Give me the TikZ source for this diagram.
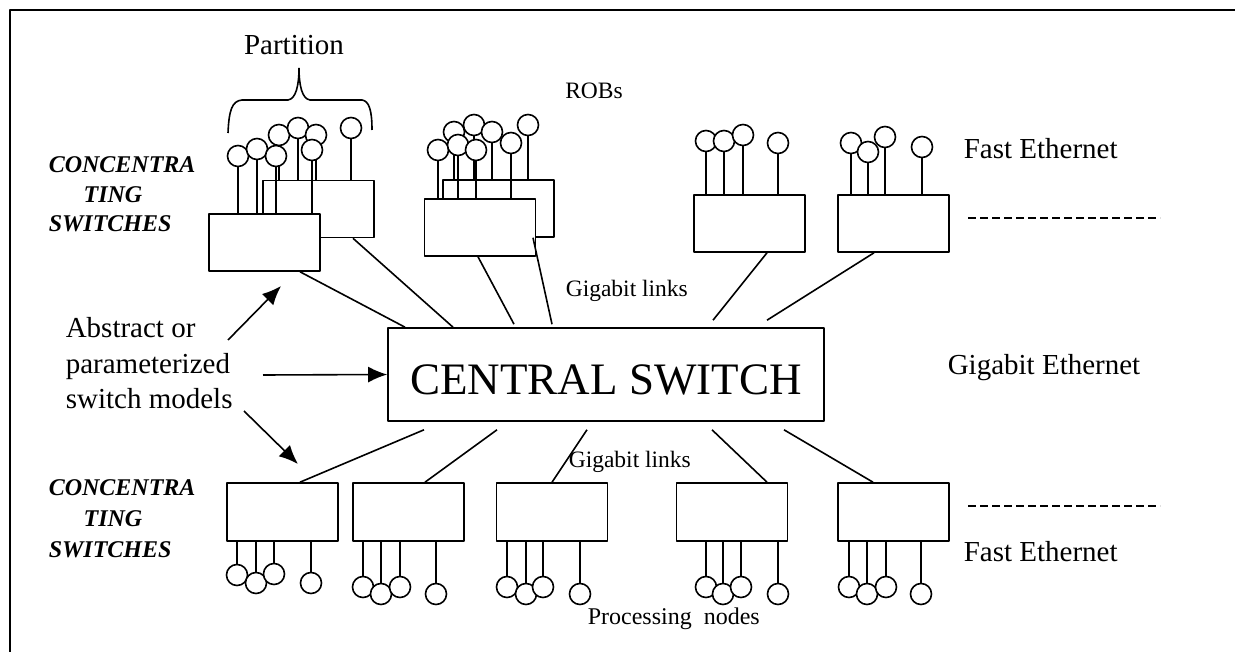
\documentclass[tikz,border=0pt]{standalone}
\usepackage{fontspec}
\setmainfont{Liberation Serif}
\usepackage{tikz}
\usetikzlibrary{arrows.meta,positioning}

\tikzset{
  swbox/.style={draw,fill=white,inner sep=0pt,minimum width=111pt,minimum height=57pt},
  rob/.style={draw,fill=white,circle,inner sep=0pt,minimum size=21pt},
  lbl/.style={inner sep=0pt,anchor=base west},
  side/.style={inner sep=0pt,align=left,anchor=base west,font=\fontsize{24}{29.5}\selectfont\bfseries\itshape},
}

\begin{document}
\begin{tikzpicture}[x=1pt,y=-1pt,>={Latex[length=19pt,width=16pt]},line join=bevel]
\pgfsetlinewidth{1.6pt}
\useasboundingbox (0,0) rectangle (1235,652);
% frame
\draw[line width=2.6pt] (10,652) -- (10,10) -- (1235,10);

% central switch
\node[draw,inner sep=0pt,minimum width=436pt,minimum height=93pt,text height=41pt,text depth=0pt,font=\fontsize{45}{54}\selectfont] (cs) at (606,374.5) {CENTRAL SWITCH};

% upper concentrating switches with ROBs (back box first)
\foreach \sw/\cx/\cy/\pts in {
  ta2/318.5/209/{279/135,298/128,316/135,351/128},
  ta1/264.5/242.5/{238/156,257/149,276/156,312/150},
  tb2/498.5/208.5/{454/132,474/125,492/132,528/125},
  tb1/480/227.5/{438/150,458/145,476/150,511/143},
  tc/749.5/223.5/{706/141,724/141,743/135,778/143},
  td/893.5/223.5/{851/143,868/152,885/137,922/147}}{
  \node[swbox] (\sw) at (\cx,\cy) {};
  \foreach \x/\y [count=\i] in \pts {
    \node[rob] (\sw r\i) at (\x,\y) {};
    \draw (\sw r\i.south) -- (\sw r\i.south |- \sw.north);
  }
}

% lower concentrating switches with processing nodes
\foreach \sw/\cx/\pts in {
  ba/282.5/{237/575,256/583,274/574,311/583},
  bb/408.5/{363/587,381/594,400/587,436/594},
  bc/552/{507/587,526/594,543/587,580/594},
  bd/732/{706/587,723/594,741/587,778/594},
  be/893.5/{849/587,867/594,886/587,921/594}}{
  \node[swbox,minimum height=58pt] (\sw) at (\cx,512) {};
  \foreach \x/\y [count=\i] in \pts {
    \node[rob] (\sw r\i) at (\x,\y) {};
    \draw (\sw r\i.north) -- (\sw r\i.north |- \sw.south);
  }
}

% gigabit links
\draw ([xshift=35.5pt]ta1.south) -- ([xshift=-201pt]cs.north);
\draw ([xshift=34.5pt]ta2.south) -- ([xshift=-153pt]cs.north);
\draw ([xshift=-2pt]tb1.south) -- ([xshift=-92pt,yshift=3pt]cs.north);
\draw ([xshift=34.5pt]tb2.south) -- ([xshift=-54pt,yshift=3pt]cs.north);
\draw ([xshift=17.5pt]tc.south) -- ([xshift=107pt,yshift=7pt]cs.north);
\draw ([xshift=-19.5pt]td.south) -- ([xshift=161pt,yshift=7pt]cs.north);
\draw ([xshift=-182pt,yshift=-8pt]cs.south) -- ([xshift=17.5pt]ba.north);
\draw ([xshift=-109pt,yshift=-8pt]cs.south) -- ([xshift=16.5pt]bb.north);
\draw ([xshift=-19pt,yshift=-8pt]cs.south) -- (bc.north);
\draw ([xshift=106pt,yshift=-8pt]cs.south) -- ([xshift=35pt]bd.north);
\draw ([xshift=178pt,yshift=-8pt]cs.south) -- ([xshift=-20.5pt]be.north);

% partition brace
\draw (228,133) .. controls (229,110) and (232,101) .. (242,100) -- (288,100)
  .. controls (296,99) and (299,85) .. (299,68) .. controls (299,85) and (302,99) .. (310,100)
  -- (362,100) .. controls (369,101) and (372,110) .. (372,130);
\node[font=\fontsize{29}{35}\selectfont,inner sep=0pt] (part) at (294,45) {Partition};
\node[font=\fontsize{23.5}{28}\selectfont,inner sep=0pt] (robs) at (594,91) {ROBs};

% side labels (base = last line)
\node[side] (conc1) at (48,232) {CONCENTRA\\\hspace*{1.45em}TING\\SWITCHES};
\node[side,font=\fontsize{24}{31}\selectfont\bfseries\itshape] (conc2) at (48,557) {CONCENTRA\\\hspace*{1.45em}TING\\SWITCHES};
\node[lbl,align=left,font=\fontsize{29}{35.5}\selectfont] (abs) at (65,409) {Abstract or\\parameterized\\switch models};

% network labels
\node[lbl,font=\fontsize{29}{35}\selectfont] (fe1) at (963,159) {Fast Ethernet};
\node[lbl,font=\fontsize{29}{35}\selectfont] (ge) at (947,374) {Gigabit Ethernet};
\node[lbl,font=\fontsize{29}{35}\selectfont] (fe2) at (963,561) {Fast Ethernet};
\node[lbl,font=\fontsize{23.5}{28}\selectfont] (gl1) at (565,297) {Gigabit links};
\node[lbl,font=\fontsize{23.5}{28}\selectfont] (gl2) at (568,467) {Gigabit links};
\node[lbl,font=\fontsize{24}{28}\selectfont] (pn) at (587,624) {Processing\ \ nodes};
\draw[dash pattern=on 8pt off 4pt] (968,218) -- (1160,218);
\draw[dash pattern=on 8pt off 4pt] (968,506) -- (1160,506);

% model arrows
\coordinate (up) at (281,286);
\coordinate (dn) at (298,464);
\draw[->] (228,340) -- (up);
\draw[->] (263,375) -- (cs.west);
\draw[->] (244,411) -- (dn);
\end{tikzpicture}
\end{document}
